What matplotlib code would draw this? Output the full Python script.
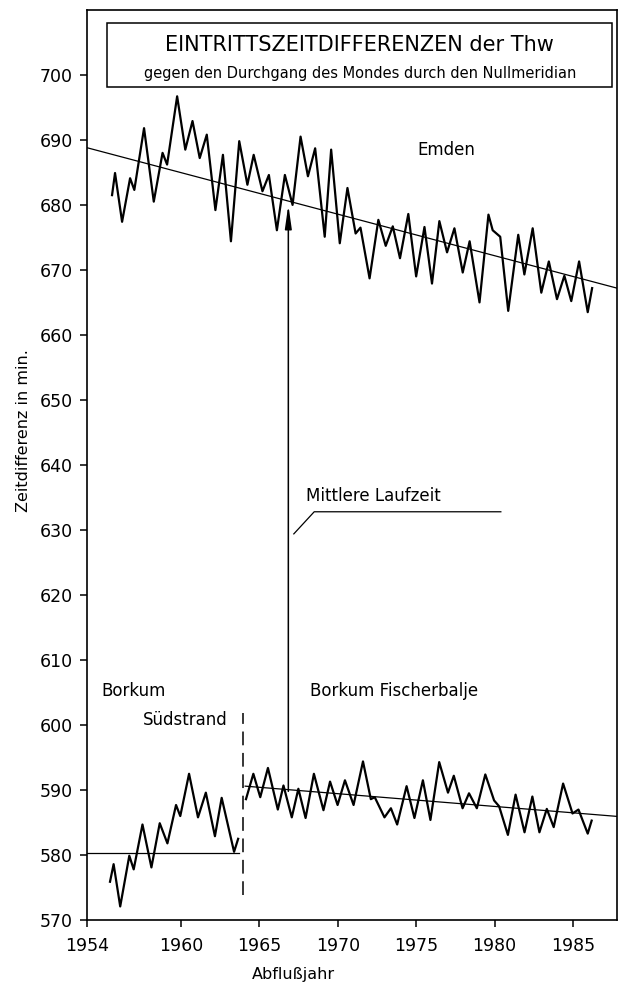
import matplotlib
matplotlib.use('Agg')
import matplotlib.pyplot as plt
from matplotlib.patches import Rectangle

# Emden (Abflussjahr, Zeitdifferenz in min)
emden_year = [1955.61, 1955.80, 1956.25, 1956.76, 1957.03, 1957.65, 1958.27, 1958.83, 1959.12, 1959.76,
              1960.28, 1960.74, 1961.20, 1961.65, 1962.20, 1962.68, 1963.19, 1963.72, 1964.24, 1964.64,
              1965.20, 1965.61, 1966.12, 1966.63, 1967.12, 1967.63, 1968.10, 1968.56, 1969.17, 1969.58,
              1970.13, 1970.62, 1971.14, 1971.45, 1972.03, 1972.59, 1973.06, 1973.51, 1973.97, 1974.50,
              1975.00, 1975.53, 1976.01, 1976.48, 1976.97, 1977.44, 1977.97, 1978.41, 1979.04, 1979.61,
              1979.88, 1980.36, 1980.87, 1981.51, 1981.90, 1982.43, 1982.98, 1983.46, 1983.98, 1984.45,
              1984.89, 1985.39, 1985.94, 1986.22]
emden_min = [681.5, 684.9, 677.4, 684.1, 682.3, 691.8, 680.5, 688.0, 686.2, 696.7,
             688.5, 692.9, 687.2, 690.8, 679.2, 687.7, 674.4, 689.8, 683.1, 687.7,
             682.1, 684.6, 676.1, 684.6, 680.0, 690.5, 684.4, 688.7, 675.1, 688.5,
             674.1, 682.6, 675.6, 676.5, 668.7, 677.7, 673.7, 676.7, 671.8, 678.6,
             669.0, 676.6, 667.9, 677.5, 672.7, 676.4, 669.6, 674.4, 665.0, 678.5,
             676.1, 675.1, 663.7, 675.4, 669.3, 676.4, 666.5, 671.3, 665.5, 669.1,
             665.2, 671.3, 663.5, 667.2]

# Borkum Suedstrand
sued_year = [1955.48, 1955.71, 1956.13, 1956.71, 1956.99, 1957.55, 1958.12, 1958.65, 1959.14,
             1959.69, 1959.96, 1960.52, 1961.09, 1961.59, 1962.17, 1962.60, 1963.39, 1963.65]
sued_min = [575.9, 578.6, 572.1, 579.9, 577.8, 584.7, 578.1, 584.9, 581.8,
            587.7, 586.0, 592.5, 585.8, 589.6, 582.9, 588.8, 580.5, 582.5]

# Borkum Fischerbalje
fisch_year = [1964.15, 1964.62, 1965.06, 1965.55, 1966.18, 1966.54, 1967.07, 1967.49, 1967.95, 1968.48,
              1969.09, 1969.51, 1969.99, 1970.46, 1971.01, 1971.61, 1972.11, 1972.36, 1972.98, 1973.39,
              1973.79, 1974.39, 1974.89, 1975.43, 1975.91, 1976.47, 1977.03, 1977.40, 1977.96, 1978.37,
              1978.87, 1979.41, 1979.97, 1980.29, 1980.85, 1981.34, 1981.91, 1982.41, 1982.86, 1983.33,
              1983.77, 1984.37, 1984.97, 1985.35, 1985.94, 1986.19]
fisch_min = [588.6, 592.5, 588.9, 593.4, 587.0, 590.7, 585.8, 590.2, 585.7, 592.5,
             586.9, 591.3, 587.7, 591.5, 587.7, 594.4, 588.6, 588.9, 585.8, 587.2,
             584.7, 590.6, 585.7, 591.5, 585.4, 594.3, 589.6, 592.2, 587.2, 589.5,
             587.2, 592.4, 588.4, 587.5, 583.1, 589.3, 583.5, 589.0, 583.5, 587.1,
             584.3, 591.0, 586.4, 587.0, 583.3, 585.3]

# trend lines
emden_trend_year = [1954.0, 1987.8]
emden_trend_min = [688.8, 667.2]
sued_trend_year = [1954.0, 1963.7]
sued_trend_min = [580.3, 580.3]
fisch_trend_year = [1964.1, 1987.8]
fisch_trend_min = [590.6, 585.95]

# station change and mean travel time
wechsel_year = 1963.93
wechsel_min = [573.9, 601.9]
laufzeit_year = 1966.85
laufzeit_min = [589.8, 680.0]

xticks = [1954, 1960, 1965, 1970, 1975, 1980, 1985]
yticks = list(range(570, 701, 10))

fig = plt.figure(figsize=(6.2, 9.83), dpi=100)
ax = fig.add_axes([0.140, 0.064, 0.855, 0.926])

ax.plot(emden_year, emden_min, color='k', lw=1.6, solid_joinstyle='round')
ax.plot(sued_year, sued_min, color='k', lw=1.6, solid_joinstyle='round')
ax.plot(fisch_year, fisch_min, color='k', lw=1.6, solid_joinstyle='round')

ax.plot(emden_trend_year, emden_trend_min, color='k', lw=0.9)
ax.plot(sued_trend_year, sued_trend_min, color='k', lw=0.9)
ax.plot(fisch_trend_year, fisch_trend_min, color='k', lw=0.9)

ax.plot([wechsel_year, wechsel_year], wechsel_min, color='k', lw=1.1, ls=(0, (9, 5)))

ax.annotate('', xy=(laufzeit_year, laufzeit_min[1]), xytext=(laufzeit_year, laufzeit_min[0]),
            arrowprops=dict(arrowstyle='-|>,head_length=1.4,head_width=0.2', color='k', lw=1.1,
                            shrinkA=0, shrinkB=0))
# leader for "Mittlere Laufzeit"
ax.plot([1967.2, 1968.5, 1980.4], [629.4, 632.8, 632.8], color='k', lw=0.9)

ax.text(1976.9, 688.4, 'Emden', fontsize=12, ha='center', va='center')
ax.text(1968.0, 635.2, 'Mittlere Laufzeit', fontsize=12, ha='left', va='center')
ax.text(1954.9, 605.2, 'Borkum', fontsize=12, ha='left', va='center')
ax.text(1957.55, 600.7, 'Südstrand', fontsize=12, ha='left', va='center')
ax.text(1968.2, 605.2, 'Borkum Fischerbalje', fontsize=12, ha='left', va='center')

# title box
ax.add_patch(Rectangle((0.038, 0.915), 0.952, 0.071, transform=ax.transAxes,
                       fill=False, lw=1.1, color='k'))
ax.text(0.515, 0.9615, 'EINTRITTSZEITDIFFERENZEN der Thw', transform=ax.transAxes,
        fontsize=15, ha='center', va='center')
ax.text(0.515, 0.930, 'gegen den Durchgang des Mondes durch den Nullmeridian', transform=ax.transAxes,
        fontsize=10.5, ha='center', va='center')

ax.set_xlim(1954, 1987.8)
ax.set_ylim(570, 710)
ax.set_xticks(xticks)
ax.set_yticks(yticks)
ax.tick_params(direction='out', length=5, width=1.1, labelsize=12.5)
ax.tick_params(axis='y', pad=5)
ax.tick_params(axis='x', pad=7)
for s in ax.spines.values():
    s.set_linewidth(1.2)

ax.set_xlabel('Abflußjahr', fontsize=11.5)
ax.xaxis.set_label_coords(0.39, -0.052)
ax.set_ylabel('Zeitdifferenz in min.', fontsize=11.5)
ax.yaxis.set_label_coords(-0.106, 0.538)

plt.savefig('out.png', dpi=100)
